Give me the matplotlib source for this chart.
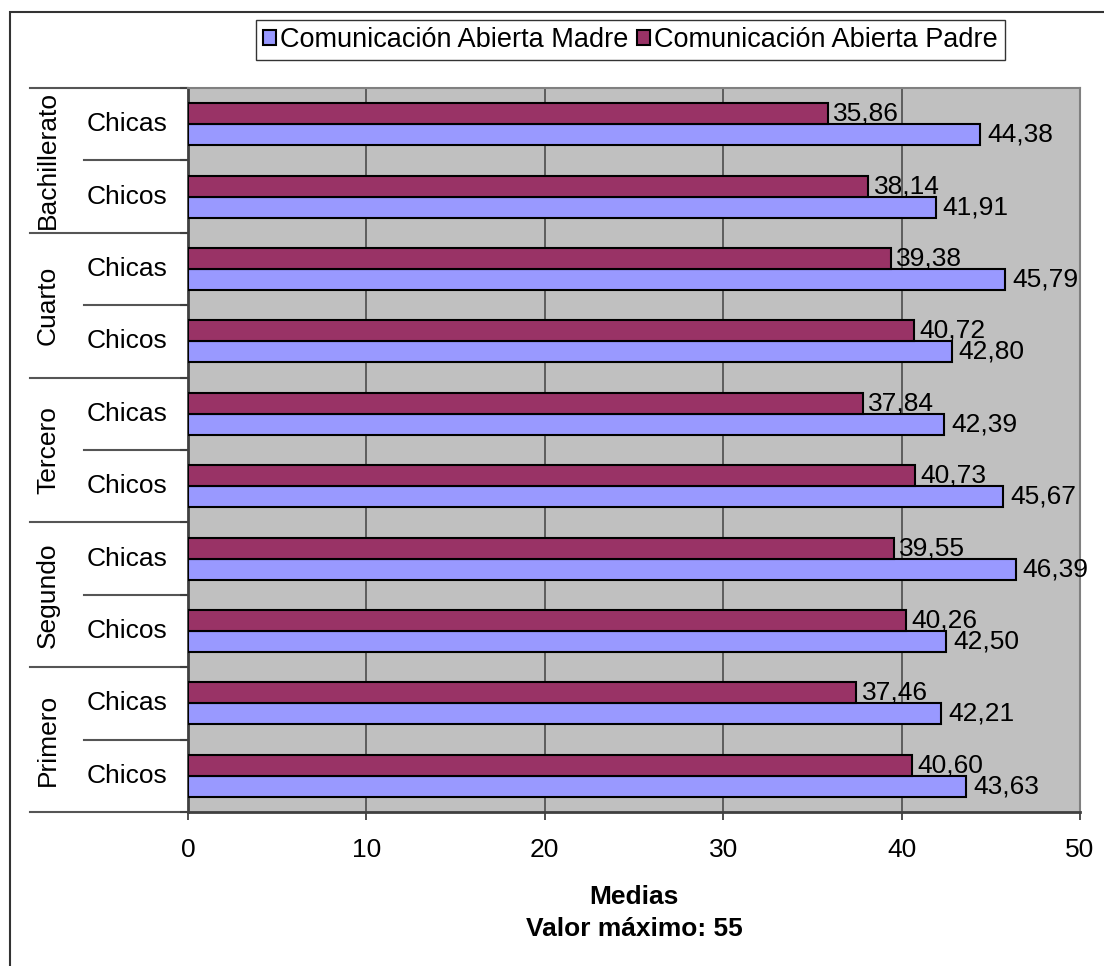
import matplotlib
matplotlib.use("Agg")
import matplotlib.pyplot as plt
import numpy as np
from matplotlib.patches import Rectangle, Patch
from matplotlib.transforms import blended_transform_factory

plt.rcParams['font.family'] = ['Liberation Sans', 'DejaVu Sans']

# Data (bottom to top)
groups = ["Primero", "Segundo", "Tercero", "Cuarto", "Bachillerato"]
subcats = ["Chicos", "Chicas"]
madre = [43.63, 42.21, 42.50, 46.39, 45.67, 42.39, 42.80, 45.79, 41.91, 44.38]
padre = [40.60, 37.46, 40.26, 39.55, 40.73, 37.84, 40.72, 39.38, 38.14, 35.86]
series_names = ["Comunicación Abierta Madre", "Comunicación Abierta Padre"]
xticks = [0, 10, 20, 30, 40, 50]

c_madre = "#9999FF"
c_padre = "#993366"

W, H = 1104, 966
fig = plt.figure(figsize=(W / 100, H / 100), dpi=100)
L, R, T, B = 188, 1080, 88, 812
ax = fig.add_axes([L / W, 1 - B / H, (R - L) / W, (B - T) / H])
ax.set_facecolor("#C0C0C0")

n = len(madre)
y = np.arange(n)
bh = 0.29
ax.barh(y - bh / 2, madre, height=bh, color=c_madre, edgecolor="black", linewidth=1.5, zorder=3)
ax.barh(y + bh / 2, padre, height=bh, color=c_padre, edgecolor="black", linewidth=1.5, zorder=3)

fs = 19
for i in range(n):
    ax.text(madre[i] + 0.4, y[i] - bh / 2, f"{madre[i]:.2f}".replace(".", ","),
            va="center", ha="left", fontsize=fs, zorder=4)
    ax.text(padre[i] + 0.3, y[i] + bh / 2, f"{padre[i]:.2f}".replace(".", ","),
            va="center", ha="left", fontsize=fs, zorder=4)

ax.set_xlim(0, 50)
ax.set_ylim(-0.5, n - 0.5)
ax.set_xticks(xticks)
ax.set_xticklabels([str(t) for t in xticks], fontsize=fs)
ax.xaxis.grid(True, color="#555555", linewidth=1.3, zorder=1)
ax.set_axisbelow(True)
ax.tick_params(axis="x", direction="out", length=6, width=1.3, color="#404040", pad=13)
ax.set_yticks(np.arange(-0.5, n, 1.0))
ax.set_yticklabels([])
ax.tick_params(axis="y", direction="out", length=6, width=1.5, color="#404040")

for s in ["top", "right"]:
    ax.spines[s].set_color("#808080")
    ax.spines[s].set_linewidth(1.5)
for s in ["bottom", "left"]:
    ax.spines[s].set_color("#404040")
    ax.spines[s].set_linewidth(2)

# Category labels
trans = blended_transform_factory(ax.transAxes, ax.transData)
ax_w = R - L
for i in range(n):
    ax.text((127 - L) / ax_w, y[i], subcats[i % 2], transform=trans,
            ha="center", va="center", fontsize=fs)
for g in range(len(groups)):
    ax.text((48 - L) / ax_w, 2 * g + 0.5, groups[g], transform=trans,
            ha="center", va="center", rotation=90, fontsize=fs)

# Separator lines
for k in range(n + 1):
    yy = k - 0.5
    x0 = (30 - L) / ax_w if k % 2 == 0 else (84 - L) / ax_w
    ax.plot([x0, 0], [yy, yy], transform=trans, color="#555555", linewidth=1.5,
            clip_on=False, zorder=0)

ax.set_xlabel("Medias\nValor máximo: 55", fontsize=fs, fontweight="bold",
              linespacing=1.45, labelpad=16)

# Legend
handles = [Patch(facecolor=c_madre, edgecolor="black", linewidth=1.5),
           Patch(facecolor=c_padre, edgecolor="black", linewidth=1.5)]
leg = fig.legend(handles, series_names, loc="center",
                 bbox_to_anchor=(630.5 / W, 1 - 40 / H), bbox_transform=fig.transFigure,
                 ncol=2, fontsize=19.5, frameon=True, fancybox=False, shadow=False,
                 handlelength=0.5, handleheight=0.5, handletextpad=0.15,
                 columnspacing=0.3, borderpad=0.25, borderaxespad=0)
leg.get_frame().set_edgecolor("black")
leg.get_frame().set_linewidth(1.0)

# Outer border
fig.patches.append(Rectangle((10 / W, -0.1), 1.2, 1.1 - 12 / H, transform=fig.transFigure,
                             fill=False, edgecolor="#333333", linewidth=1.5))

fig.savefig("out.png", dpi=100)
